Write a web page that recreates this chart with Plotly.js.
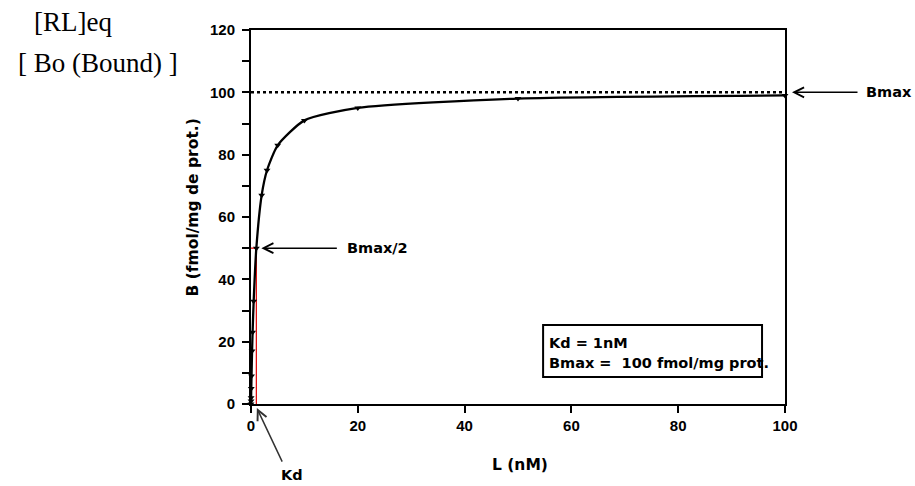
<!DOCTYPE html>
<html>
<head>
<meta charset="utf-8">
<script src="https://cdn.plot.ly/plotly-3.0.1.min.js"></script>
<style>
html,body{margin:0;padding:0;background:#fff;}
#chart{width:915px;height:486px;}
</style>
</head>
<body>
<div id="chart"></div>
<script>
// Data
const ligandNM = [0, 0.01, 0.02, 0.05, 0.1, 0.2, 0.3, 0.5, 1, 2, 3, 5, 10, 20, 50, 100];
const boundB   = [0, 1, 2, 5, 9, 17, 23, 33, 50, 67, 75, 83, 91, 95, 98, 99];
const bmaxX = [0, 100];
const bmaxY = [100, 100];
const kdX = [0, 1, 1];
const kdY = [50, 50, 0];
const yTickVals = [0, 10, 20, 30, 40, 50, 60, 70, 80, 90, 100, 110, 120];
const yTickText = ['0', '', '20', '', '40', '', '60', '', '80', '', '100', '', '120'];
const xTickVals = [0, 20, 40, 60, 80, 100];
const xTickText = ['0', '20', '40', '60', '80', '100'];

const sans = 'Liberation Sans, Arial, sans-serif';
const wide = 'DejaVu Sans, Liberation Sans, Arial, sans-serif';
const serif = 'Liberation Serif, Times New Roman, serif';

const traces = [
  {
    x: bmaxX, y: bmaxY, mode: 'lines', type: 'scatter',
    line: {color: '#000', width: 2.5, dash: 'dot'}, hoverinfo: 'skip', cliponaxis: false
  },
  {
    x: kdX, y: kdY, mode: 'lines', type: 'scatter',
    line: {color: '#e00000', width: 1.2}, hoverinfo: 'skip'
  },
  {
    x: ligandNM, y: boundB, mode: 'lines+markers', type: 'scatter',
    line: {color: '#000', width: 2.3, shape: 'spline', smoothing: 0.6},
    marker: {symbol: 'triangle-down', size: 6, color: '#000'},
    cliponaxis: false
  }
];

const tickFont = {family: sans, size: 15, color: '#000', weight: 'bold'};
const titleFont = {family: wide, size: 15.5, color: '#000', weight: 'bold'};
const boxFont = {family: wide, size: 14.5, color: '#000', weight: 'bold'};
const noteFont = {family: wide, size: 14.5, color: '#000', weight: 'bold'};

const layout = {
  width: 915, height: 486,
  margin: {l: 251, r: 130, t: 30, b: 82},
  paper_bgcolor: '#fff', plot_bgcolor: '#fff',
  showlegend: false,
  xaxis: {
    range: [0, 100], tickvals: xTickVals, ticktext: xTickText,
    ticks: 'outside', ticklen: 7, tickwidth: 2, tickcolor: '#000',
    showline: true, linecolor: '#000', linewidth: 2, mirror: true,
    showgrid: false, zeroline: false,
    tickfont: tickFont
  },
  yaxis: {
    range: [0, 120], tickvals: yTickVals, ticktext: yTickText,
    ticks: 'outside', ticklen: 7, tickwidth: 2, tickcolor: '#000',
    showline: true, linecolor: '#000', linewidth: 2, mirror: true,
    showgrid: false, zeroline: false, ticklabelstandoff: 4,
    tickfont: tickFont
  },
  shapes: [
    {type: 'rect', xref: 'paper', yref: 'paper', x0: 0.547, x1: 0.957, y0: 0.072, y1: 0.211,
     line: {color: '#000', width: 2}, fillcolor: 'rgba(0,0,0,0)'}
  ],
  annotations: [
    // axis titles
    {xref: 'paper', yref: 'paper', x: 0.504, y: -0.163, xanchor: 'center', yanchor: 'middle', showarrow: false,
     text: 'L (nM)', font: titleFont},
    {xref: 'paper', yref: 'paper', x: -0.109, y: 0.525, xanchor: 'center', yanchor: 'middle', showarrow: false,
     textangle: -90, text: 'B (fmol/mg de prot.)', font: titleFont},
    // info box
    {xref: 'paper', yref: 'paper', x: 0.555, y: 0.164, xanchor: 'left', yanchor: 'middle', showarrow: false,
     text: 'Kd = 1nM', font: boxFont},
    {xref: 'paper', yref: 'paper', x: 0.555, y: 0.110, xanchor: 'left', yanchor: 'middle', showarrow: false,
     text: 'Bmax =\u00a0 100 fmol/mg prot.', font: boxFont},
    // Bmax arrow
    {xref: 'x', yref: 'y', x: 100, y: 100, ax: 74, ay: 0, text: '', showarrow: true,
     arrowhead: 5, arrowsize: 1.3, arrowwidth: 1.5, arrowcolor: '#000', standoff: 7},
    {xref: 'paper', yref: 'y', x: 1.1475, y: 100, xanchor: 'left', yanchor: 'middle', showarrow: false,
     text: 'Bmax', font: noteFont},
    // Bmax/2 arrow
    {xref: 'x', yref: 'y', x: 1, y: 50, ax: 82, ay: 0, text: '', showarrow: true,
     arrowhead: 5, arrowsize: 1.3, arrowwidth: 1.5, arrowcolor: '#000', standoff: 5},
    {xref: 'x', yref: 'y', x: 17.6, y: 50, xanchor: 'left', yanchor: 'middle', showarrow: false,
     text: 'Bmax/2', font: noteFont},
    // Kd arrow
    {xref: 'x', yref: 'paper', x: 1.1, y: -0.011, ax: 26, ay: 55, text: '', showarrow: true,
     arrowhead: 5, arrowsize: 1.3, arrowwidth: 1.5, arrowcolor: '#333', standoff: 0},
    {xref: 'x', yref: 'paper', x: 7.7, y: -0.19, xanchor: 'center', yanchor: 'middle', showarrow: false,
     text: 'Kd', font: noteFont},
    // top-left labels
    {xref: 'paper', yref: 'paper', x: -0.41, y: 1.021, xanchor: 'left', yanchor: 'middle', showarrow: false,
     text: '[RL]eq', font: {family: serif, size: 27, color: '#000'}},
    {xref: 'paper', yref: 'paper', x: -0.44, y: 0.912, xanchor: 'left', yanchor: 'middle', showarrow: false,
     text: '[ Bo (Bound) ]', font: {family: serif, size: 27, color: '#000'}}
  ]
};

Plotly.newPlot('chart', traces, layout, {displayModeBar: false, staticPlot: true});
</script>
</body>
</html>
